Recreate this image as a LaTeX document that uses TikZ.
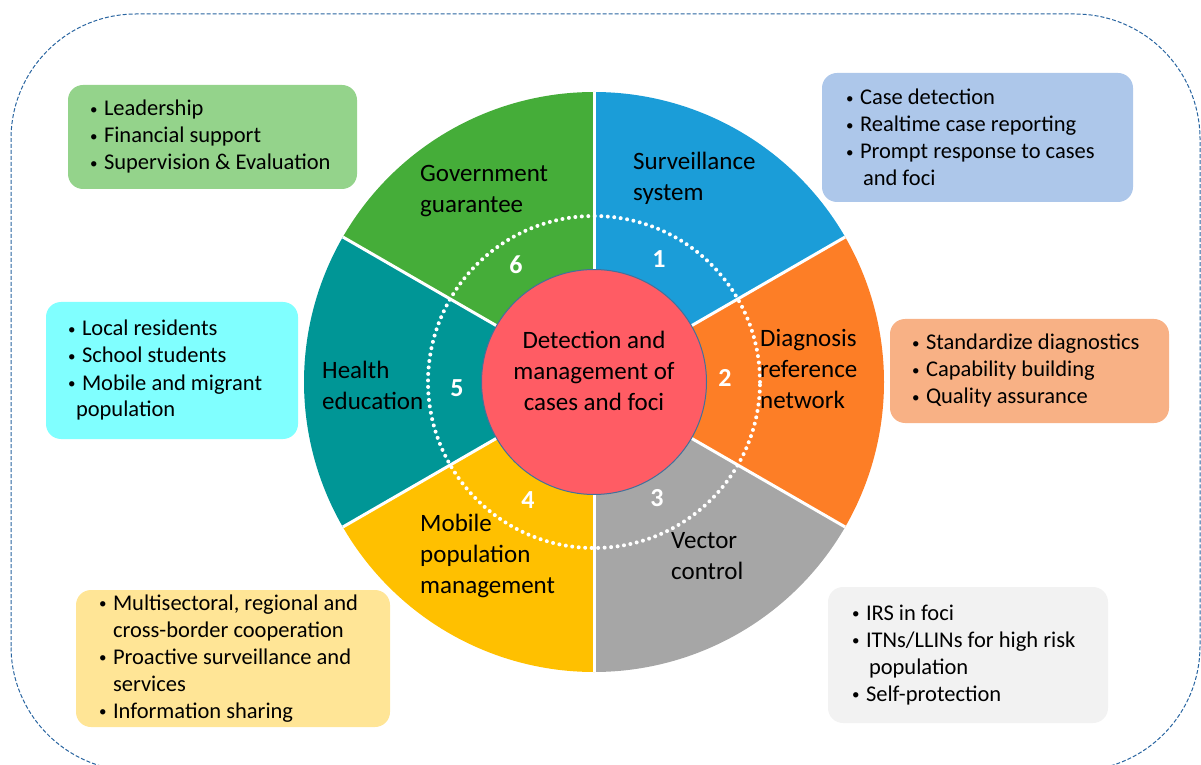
\documentclass[tikz,border=0pt]{standalone}
\usepackage{fontspec}
\setmainfont{Carlito}
\usepackage{tikz}
\usetikzlibrary{positioning}
\definecolor{sblue}{RGB}{27,157,216}
\definecolor{sorange}{RGB}{253,126,38}
\definecolor{sgray}{RGB}{166,166,166}
\definecolor{syellow}{RGB}{255,192,0}
\definecolor{steal}{RGB}{0,150,150}
\definecolor{sgreen}{RGB}{69,173,57}
\definecolor{core}{RGB}{255,92,100}
\definecolor{coreline}{RGB}{65,113,156}
\definecolor{frame}{RGB}{40,100,160}
\definecolor{bgreen}{RGB}{148,211,139}
\definecolor{bblue}{RGB}{173,199,234}
\definecolor{bcyan}{RGB}{128,255,255}
\definecolor{borange}{RGB}{248,177,133}
\definecolor{byellow}{RGB}{255,229,150}
\definecolor{bgray}{RGB}{242,242,242}
\newcommand\bul{\makebox[14pt][l]{\raisebox{1.5pt}{\fontsize{15}{15}\selectfont\textbullet}}}
\tikzset{
  box/.style={fill=#1,rounded corners=15pt,inner sep=0pt},
  list/.style={anchor=west,align=left,inner sep=0pt,font=\fontsize{22.5}{27}\selectfont},
  seg/.style={anchor=west,align=left,inner sep=0pt,font=\fontsize{25}{31}\selectfont},
  num/.style={text=white,inner sep=0pt,font=\fontsize{26}{29}\selectfont\bfseries},
  sep/.style={white,line width=3pt},
  dots/.style={white,line width=4pt,line cap=round,dash pattern=on 0pt off 6.5pt}
}

\begin{document}
\begin{tikzpicture}[x=1pt,y=1pt]
    \useasboundingbox (0,0) rectangle (1201,764);
    \begin{scope}
      \clip (0,0) rectangle (1201,764);
      \draw [frame, dashed, dash pattern=on 4pt off 2pt, line width=1pt, rounded corners=125pt] (11,-7) rectangle (1200,750);
    \end{scope}

    \coordinate (ctr) at (594,382);
    \foreach \a/\c in {30/sblue, -30/sorange, -90/sgray, 210/syellow, 150/steal, 90/sgreen}
      \fill [\c] (ctr) -- ++(\a:290) arc [start angle=\a, delta angle=60, radius=290] -- cycle;
    \foreach \a in {30,90,...,330}
      \draw [sep] (ctr) -- ++(\a:290);
    \draw [dots] (ctr) circle [radius=166];
    \node [circle, fill=core, draw=coreline, line width=1pt, minimum size=225pt, inner sep=0pt] (core) at (ctr) {};
    \node [align=center, inner sep=0pt, font=\fontsize{25}{31}\selectfont] (core text) at (594,393) {Detection and\\management of\\cases and foci};

    \node [num] (n1) at (659,505) {1};
    \node [num] (n2) at (725,386) {2};
    \node [num] (n3) at (657,266) {3};
    \node [num] (n4) at (528,264) {4};
    \node [num] (n5) at (457,376) {5};
    \node [num] (n6) at (516,499) {6};

    \node [seg] (surv) at (633,586) {Surveillance\\system};
    \node [seg] (diag) at (760,395) {Diagnosis\\reference\\network};
    \node [seg] (vect) at (671,208) {Vector\\control};
    \node [seg] (mob) at (420,208) {Mobile\\population\\management};
    \node [seg] (hedu) at (322,379) {Health\\education};
    \node [seg] (gov) at (420,573) {Government\\guarantee};

    \node [box=bgreen, minimum width=289pt, minimum height=104pt] (gov box) at (212.5,627) {};
    \node [list, right=22pt of gov box.west] (gov list) {\bul Leadership\\\bul Financial support\\\bul Supervision \& Evaluation};

    \node [box=bblue, minimum width=311pt, minimum height=129pt] (surv box) at (977.5,626.5) {};
    \node [list, right=24pt of surv box.west] (surv list) {\bul Case detection\\\bul Realtime case reporting\\\bul Prompt response to cases\\\hspace*{17pt}and foci};

    \node [box=bcyan, minimum width=252pt, minimum height=137pt] (hedu box) at (172,393.5) {};
    \node [list, right=22pt of hedu box.west] (hedu list) {\bul Local residents\\\bul School students\\\bul Mobile and migrant\\\hspace*{8pt}population};

    \node [box=borange, minimum width=279pt, minimum height=104pt] (diag box) at (1029.5,393) {};
    \node [list, right=22pt of diag box.west] (diag list) {\bul Standardize diagnostics\\\bul Capability building\\\bul Quality assurance};

    \node [box=byellow, minimum width=314pt, minimum height=137pt] (mob box) at (233,105.5) {};
    \node [list, right=23pt of mob box.west] (mob list) {\bul Multisectoral, regional and\\\hspace*{14pt}cross-border cooperation\\\bul Proactive surveillance and\\\hspace*{14pt}services\\\bul Information sharing};

    \node [box=bgray, minimum width=280pt, minimum height=136pt] (vect box) at (968,109) {};
    \node [list, right=24pt of vect box.west] (vect list) {\bul IRS in foci\\\bul ITNs/LLINs for high risk\\\hspace*{17pt}population\\\bul Self-protection};
\end{tikzpicture}
\end{document}
